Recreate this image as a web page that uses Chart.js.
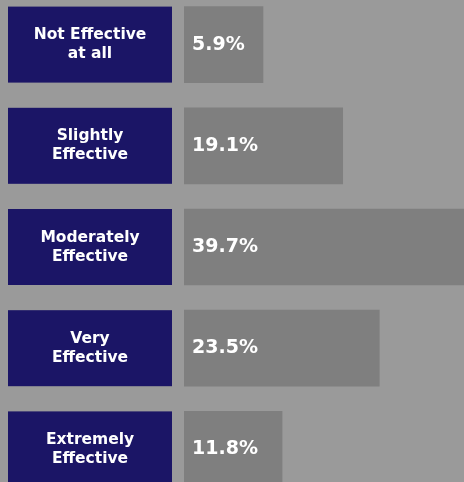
<!DOCTYPE html>
<html>
<head>
<meta charset="utf-8">
<script src="https://cdn.jsdelivr.net/npm/chart.js@4"></script>
<style>
  html, body { margin: 0; padding: 0; background: #9a9a9a; overflow: hidden; }
  #wrap { position: absolute; left: 0; top: -6px; width: 464px; height: 506px; }
</style>
</head>
<body>
<div id="wrap"><canvas id="effChart"></canvas></div>
<script>
// data
const categories = [
    ['Not Effective', 'at all'],
    ['Slightly', 'Effective'],
    ['Moderately', 'Effective'],
    ['Very', 'Effective'],
    ['Extremely', 'Effective']
];
const percents = [5.9, 19.1, 39.7, 23.5, 11.8];

// navy label boxes + value text
const boxLabels = {
    id: 'boxLabels',
    afterDatasetsDraw(chart) {
        const ctx = chart.ctx;
        const yScale = chart.scales.y;
        const meta = chart.getDatasetMeta(0);
        ctx.save();
        categories.forEach((lines, i) => {
            const yc = yScale.getPixelForValue(i);
            const h = meta.data[i].height;
            ctx.fillStyle = '#1b1566';
            ctx.fillRect(8, yc - h / 2, 164, h);
            ctx.fillStyle = '#ffffff';
            ctx.font = 'bold 15.5px "DejaVu Sans"';
            ctx.textAlign = 'center';
            ctx.textBaseline = 'middle';
            ctx.fillText(lines[0], 90, yc - 9.5);
            ctx.fillText(lines[1], 90, yc + 9.5);

            ctx.font = 'bold 19px "DejaVu Sans"';
            ctx.textAlign = 'left';
            ctx.fillText(percents[i].toFixed(1) + '%', 192, yc);
        });
        ctx.restore();
    }
};

new Chart(document.getElementById('effChart'), {
    type: 'bar',
    data: {
        labels: categories.map(l => l.join(' ')),
        datasets: [{
            data: percents,
            backgroundColor: '#7f7f7f',
            borderWidth: 0,
            barThickness: 76,
            minBarLength: 79
        }]
    },
    options: {
        indexAxis: 'y',
        responsive: true,
        maintainAspectRatio: false,
        animation: false,
        layout: { padding: { left: 184, right: 0, top: 0, bottom: 0 } },
        scales: {
            x: { display: false, min: 0, max: 33.7 },
            y: { display: false }
        },
        plugins: {
            legend: { display: false },
            tooltip: { enabled: false }
        }
    },
    plugins: [boxLabels]
});
</script>
</body>
</html>
